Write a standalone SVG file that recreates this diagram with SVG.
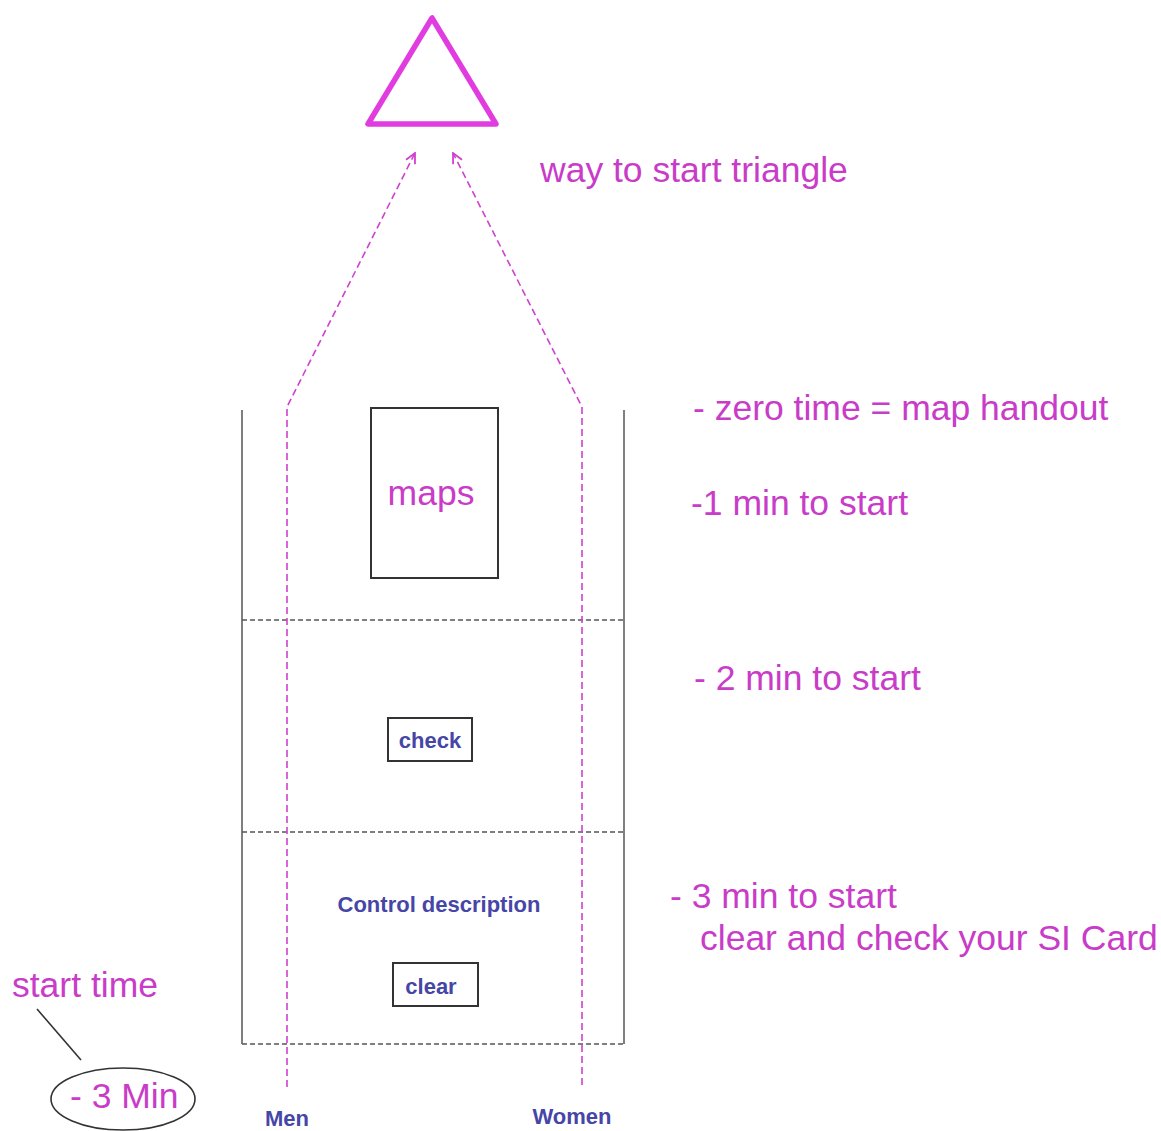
<svg xmlns="http://www.w3.org/2000/svg" width="1161" height="1131" viewBox="0 0 1161 1131">
<style>
.mg{font-family:"Liberation Sans",Arial,sans-serif;font-size:35.5px;fill:#c83cc8}
.bl{font-family:"Liberation Sans",Arial,sans-serif;font-size:22px;font-weight:bold;fill:#4646a6}
.box{fill:#fff;stroke:#333;stroke-width:2}
.wall{stroke:#555;stroke-width:1.5;fill:none}
.sep{stroke:#555;stroke-width:1.5;stroke-dasharray:5,3;fill:none}
.path{stroke:#d040d0;stroke-width:1.6;stroke-dasharray:7,4;fill:none}
</style>
<defs>
<marker id="arr" viewBox="0 0 12 12" refX="11" refY="6" markerWidth="12" markerHeight="12" markerUnits="userSpaceOnUse" orient="auto">
<path d="M1,1 L11,6 L1,11" fill="none" stroke="#d040d0" stroke-width="1.8"/>
</marker>
</defs>
<rect width="1161" height="1131" fill="#fff"/>
<g id="triangle">
<polygon points="432,18 368,124 496,124" fill="none" stroke="#e03ce0" stroke-width="5.5" stroke-linejoin="round"/>
</g>
<g id="start-area">
<line class="wall" x1="242" y1="410" x2="242" y2="1044"/>
<line class="wall" x1="624" y1="410" x2="624" y2="1044"/>
<line class="sep" x1="242" y1="620" x2="624" y2="620"/>
<line class="sep" x1="242" y1="832" x2="624" y2="832"/>
<line class="sep" x1="242" y1="1044" x2="624" y2="1044"/>
</g>
<g id="connectors">
<path class="path" d="M287,1087 L287,407 L415,153" marker-end="url(#arr)"/>
<path class="path" d="M582,1085 L582,407 L453,153" marker-end="url(#arr)"/>
<line x1="37" y1="1009" x2="81" y2="1060" stroke="#333" stroke-width="1.6"/>
</g>
<g id="maps">
<rect class="box" x="371" y="408" width="127" height="170"/>
<text class="mg" x="431" y="505" text-anchor="middle">maps</text>
</g>
<g id="check">
<rect class="box" x="388" y="718" width="84" height="43"/>
<text class="bl" x="430" y="748" text-anchor="middle">check</text>
</g>
<g id="control-description">
<text class="bl" x="439" y="912" text-anchor="middle">Control description</text>
</g>
<g id="clear">
<rect class="box" x="393" y="963" width="85" height="43"/>
<text class="bl" x="431" y="994" text-anchor="middle">clear</text>
</g>
<g id="men"><text class="bl" x="287" y="1126" text-anchor="middle">Men</text></g>
<g id="women"><text class="bl" x="572" y="1124" text-anchor="middle">Women</text></g>
<g id="start-time">
<text class="mg" x="12" y="997">start time</text>
</g>
<g id="minus3">
<ellipse cx="123" cy="1099" rx="72" ry="31" fill="none" stroke="#333" stroke-width="1.6"/>
<text class="mg" x="70" y="1108">- 3 Min</text>
</g>
<g id="labels">
<text class="mg" x="540" y="182">way to start triangle</text>
<text class="mg" x="693" y="420">- zero time = map handout</text>
<text class="mg" x="691" y="515">-1 min to start</text>
<text class="mg" x="694" y="690">- 2 min to start</text>
<text class="mg" x="670" y="908">- 3 min to start</text>
<text class="mg" x="700" y="950">clear and check your SI Card</text>
</g>
</svg>
